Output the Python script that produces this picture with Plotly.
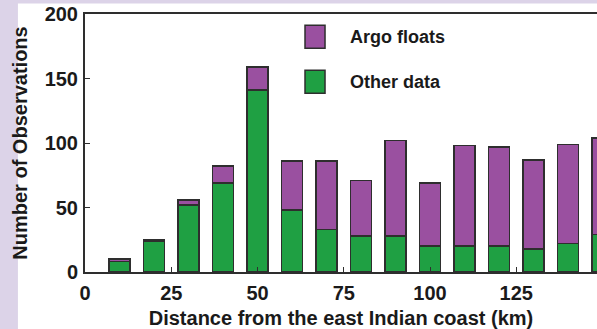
import plotly.graph_objects as go

# Distance bins (km) and observation counts per bin
distance_km = [10, 20, 30, 40, 50, 60, 70, 80, 90, 100, 110, 120, 130, 140, 150]
other_data = [8, 24, 52, 69, 141, 48, 33, 28, 28, 20, 20, 20, 18, 22, 29]
argo_floats = [2, 1, 4, 13, 18, 38, 53, 43, 74, 49, 78, 77, 69, 77, 75]

x_ticks = [0, 25, 50, 75, 100, 125]
y_ticks = [0, 50, 100, 150, 200]

GREEN = "#1fa043"
PURPLE = "#9a50a0"
EDGE = "#2e2e2e"
LAVENDER = "#dcd3e8"
TEXT = "#1a1a1a"
FONT = "Liberation Sans, Arial, sans-serif"

fig = go.Figure()
fig.add_trace(go.Bar(x=distance_km, y=other_data, name="Other data",
                     marker=dict(color=GREEN, line=dict(color=EDGE, width=1.5)),
                     width=6, showlegend=False))
fig.add_trace(go.Bar(x=distance_km, y=argo_floats, name="Argo floats",
                     marker=dict(color=PURPLE, line=dict(color=EDGE, width=1.5)),
                     width=6, showlegend=False))

# Hand-placed legend: large swatches with bold labels
legend_items = [("Argo floats", PURPLE, 0.867, 0.956), ("Other data", GREEN, 0.693, 0.782)]
shapes = []
annotations = []
for label, color, y0, y1 in legend_items:
    shapes.append(dict(type="rect", xref="paper", yref="paper", x0=0.4297, x1=0.4688,
                       y0=y0, y1=y1, fillcolor=color, line=dict(color=EDGE, width=1.5)))
    annotations.append(dict(text="<b>%s</b>" % label, xref="paper", yref="paper",
                            x=0.513, y=(y0 + y1) / 2, xanchor="left", yanchor="middle",
                            showarrow=False, font=dict(size=18, color=TEXT, family=FONT)))

# Lavender page edge on the left and top
shapes.append(dict(type="rect", xref="paper", yref="paper", x0=-0.17, x1=-0.131,
                   y0=-0.25, y1=1.06, fillcolor=LAVENDER, line=dict(width=0), layer="below"))
shapes.append(dict(type="rect", xref="paper", yref="paper", x0=-0.17, x1=1.01,
                   y0=1.041, y1=1.06, fillcolor=LAVENDER, line=dict(width=0), layer="below"))

fig.update_layout(
    width=597, height=329,
    margin=dict(l=85, r=0, t=14, b=57),
    barmode="stack",
    paper_bgcolor="white", plot_bgcolor="white",
    font=dict(family=FONT, color=TEXT),
    shapes=shapes, annotations=annotations,
)
fig.update_xaxes(
    range=[0, 148.4], tickvals=x_ticks, ticktext=["<b>%d</b>" % v for v in x_ticks],
    tickfont=dict(size=20, family=FONT, color=TEXT), ticklabelstandoff=2,
    showline=True, linecolor=EDGE, linewidth=2, mirror=True,
    ticks="inside", ticklen=5, tickcolor=EDGE, showgrid=False, zeroline=False,
    title=dict(text="<b>Distance from the east Indian coast (km)</b>",
               font=dict(size=20, family=FONT, color=TEXT), standoff=9),
    automargin=False,
)
fig.update_yaxes(
    range=[0, 200], tickvals=y_ticks, ticktext=["<b>%d</b>" % v for v in y_ticks],
    tickfont=dict(size=20, family=FONT, color=TEXT), ticklabelstandoff=1,
    showline=True, linecolor=EDGE, linewidth=2, mirror=False,
    ticks="inside", ticklen=5, tickcolor=EDGE, showgrid=False, zeroline=False,
    title=dict(text="<b>Number of Observations</b>",
               font=dict(size=20, family=FONT, color=TEXT), standoff=12),
    automargin=False,
)

fig.write_html("out.html")
